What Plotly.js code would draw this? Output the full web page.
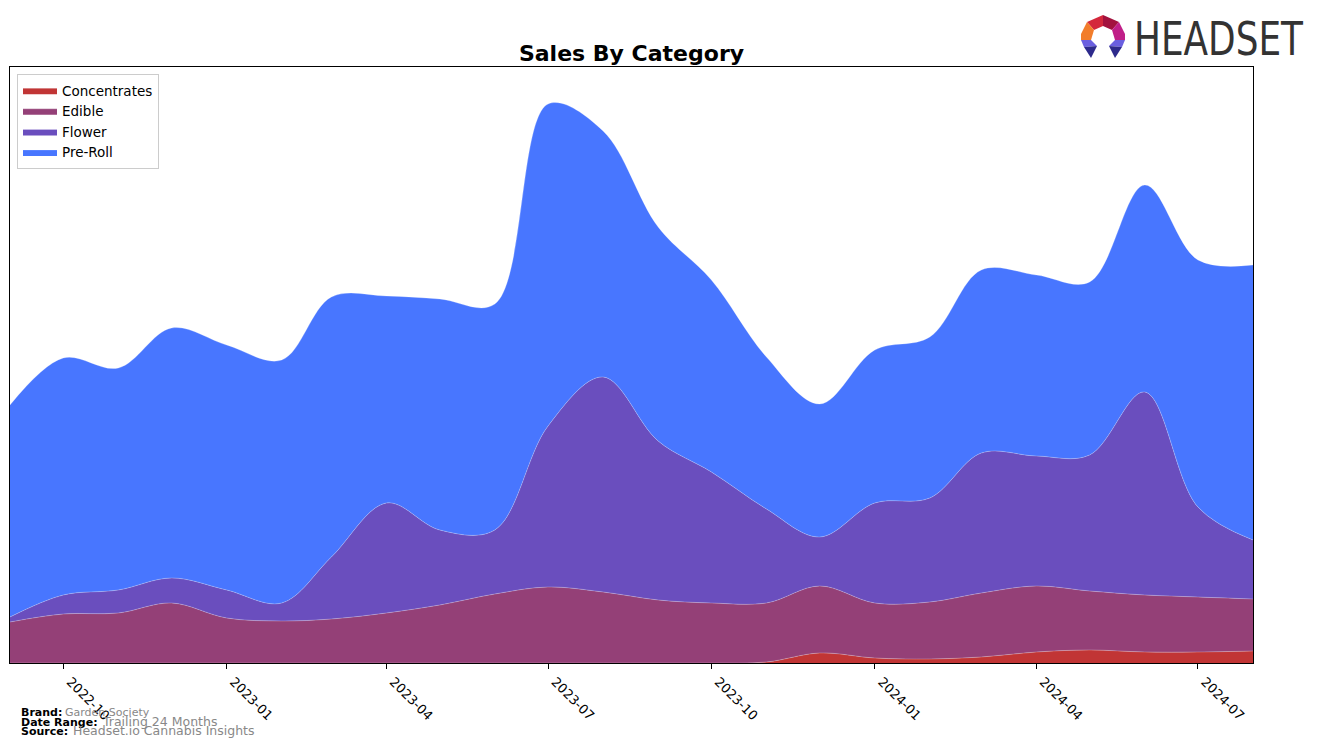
<!DOCTYPE html>
<html>
<head>
<meta charset="utf-8">
<script src="https://cdn.plot.ly/plotly-3.0.1.min.js"></script>
<style>
  html, body { margin: 0; padding: 0; background: #fff; }
  #wrap { position: relative; width: 1317px; height: 748px; }
  #chart { width: 1317px; height: 748px; }
  #logo { position: absolute; left: 0; top: 0; pointer-events: none; }
</style>
</head>
<body>
<div id="wrap">
  <div id="chart"></div>
  <svg id="logo" width="1317" height="80" xmlns="http://www.w3.org/2000/svg">
    <polygon points="1087,22 1103,15 1103,26 1094,30" fill="#d4283c"/>
    <polygon points="1103,15 1119,22 1112,30 1103,26" fill="#a3123e"/>
    <polygon points="1087,22 1094,30 1091,40 1081,40 1081,34" fill="#f27d2b"/>
    <polygon points="1119,22 1112,30 1115,40 1125,40 1125,34" fill="#c01f88"/>
    <polygon points="1081,40 1091,40 1097,46 1084,47" fill="#6a5fe0"/>
    <polygon points="1084,47 1097,46 1091,58" fill="#2d2a8c"/>
    <polygon points="1125,40 1115,40 1109,46 1122,47" fill="#6a5fe0"/>
    <polygon points="1122,47 1109,46 1115,58" fill="#2d2a8c"/>
    <text x="1134" y="55" font-family="'Liberation Sans Narrow','DejaVu Sans Condensed','Liberation Sans',sans-serif" font-size="47" fill="#333333" textLength="169" lengthAdjust="spacingAndGlyphs">HEADSET</text>
  </svg>
</div>
<script>
// ---- Data (monthly) ----
const months = ['2022-09-01','2022-10-01','2022-11-01','2022-12-01','2023-01-01','2023-02-01',
  '2023-03-01','2023-04-01','2023-05-01','2023-06-01','2023-07-01','2023-08-01',
  '2023-09-01','2023-10-01','2023-11-01','2023-12-01','2024-01-01','2024-02-01',
  '2024-03-01','2024-04-01','2024-05-01','2024-06-01','2024-07-01','2024-08-01'];

const concentrates = [0,0,0,0,0,0, 0,0,0,0,0,0, 0,0,1,10,5,4, 6,11,13,11,11,12];
const edible       = [41,49,50,60,45,42, 44,50,58,69,76,71, 63,60,59,67,55,57, 64,66,59,57,55,52];
const flower       = [5,19,23,25,28,18, 62,110,75,64,161,215, 159,131,94,49,100,104, 140,130,136,203,90,59];
const preRoll      = [212,237,222,250,245,243, 260,207,231,226,322,246, 214,192,152,133,153,161, 183,181,173,207,247,275];

const tickVals   = ['2022-10-01','2023-01-01','2023-04-01','2023-07-01','2023-10-01','2024-01-01','2024-04-01','2024-07-01'];
const tickLabels = ['2022-10','2023-01','2023-04','2023-07','2023-10','2024-01','2024-04','2024-07'];

const seriesNames  = ['Concentrates','Edible','Flower','Pre-Roll'];
const seriesValues = [concentrates, edible, flower, preRoll];
const seriesColors = ['#c13535','#944077','#6a4ebe','#4876ff'];

const traces = seriesNames.map((name, i) => ({
  type: 'scatter',
  mode: 'lines',
  name: name,
  x: months,
  y: seriesValues[i],
  stackgroup: 'one',
  legendgroup: name,
  line: { shape: 'spline', smoothing: 1, width: 0.7, color: 'rgba(255,255,255,0.35)' },
  fillcolor: seriesColors[i],
  hoverinfo: 'skip'
}));

const font = "'DejaVu Sans', sans-serif";

const annotations = [
  { text: '<b>Brand:</b>', x: 19, y: 712, size: 11, color: '#000' },
  { text: 'Garden Society', x: 63, y: 712, size: 11, color: '#888888' },
  { text: '<b>Date Range:</b>', x: 19, y: 722, size: 11, color: '#000' },
  { text: 'Trailing 24 Months', x: 100, y: 721, size: 12.5, color: '#888888' },
  { text: '<b>Source:</b>', x: 19, y: 731, size: 11, color: '#000' },
  { text: 'Headset.io Cannabis Insights', x: 71, y: 730, size: 12.5, color: '#888888' }
].map(a => ({
  text: a.text,
  xref: 'paper', yref: 'paper',
  x: (a.x - 10) / 1243, y: (663 - a.y) / 596,
  xanchor: 'left', yanchor: 'middle',
  showarrow: false,
  font: { family: font, size: a.size, color: a.color }
}));

const layout = {
  width: 1317, height: 748,
  margin: { l: 10, r: 64, t: 67, b: 85, pad: 0 },
  paper_bgcolor: '#fff', plot_bgcolor: '#fff',
  font: { family: font, color: '#000' },
  title: {
    text: '<b>Sales By Category</b>',
    font: { family: font, size: 22, color: '#000' },
    x: 0.4795, xanchor: 'center',
    y: 1 - 53 / 748, yanchor: 'middle', yref: 'container'
  },
  showlegend: true,
  legend: {
    x: 7 / 1243, y: (663 - 74) / 596, xanchor: 'left', yanchor: 'top',
    traceorder: 'normal',
    bgcolor: 'rgba(255,255,255,0.85)', bordercolor: '#cccccc', borderwidth: 1,
    font: { family: font, size: 13.5, color: '#000' },
    itemwidth: 34,
    tracegroupgap: 1
  },
  xaxis: {
    type: 'date',
    range: [months[0], months[months.length - 1]],
    tickvals: tickVals, ticktext: tickLabels,
    tickangle: 45,
    ticklabelshift: 7,
    ticks: 'outside', ticklen: 5, tickwidth: 1, tickcolor: '#000',
    tickfont: { family: font, size: 13, color: '#000' },
    showline: true, linecolor: '#000', linewidth: 1, mirror: true,
    showgrid: false, zeroline: false, fixedrange: true
  },
  yaxis: {
    range: [0, 596],
    showticklabels: false, ticks: '',
    showline: true, linecolor: '#000', linewidth: 1, mirror: true,
    showgrid: false, zeroline: false, fixedrange: true
  },
  annotations: annotations
};

Plotly.newPlot('chart', traces, layout, { displayModeBar: false, staticPlot: true });
</script>
</body>
</html>
